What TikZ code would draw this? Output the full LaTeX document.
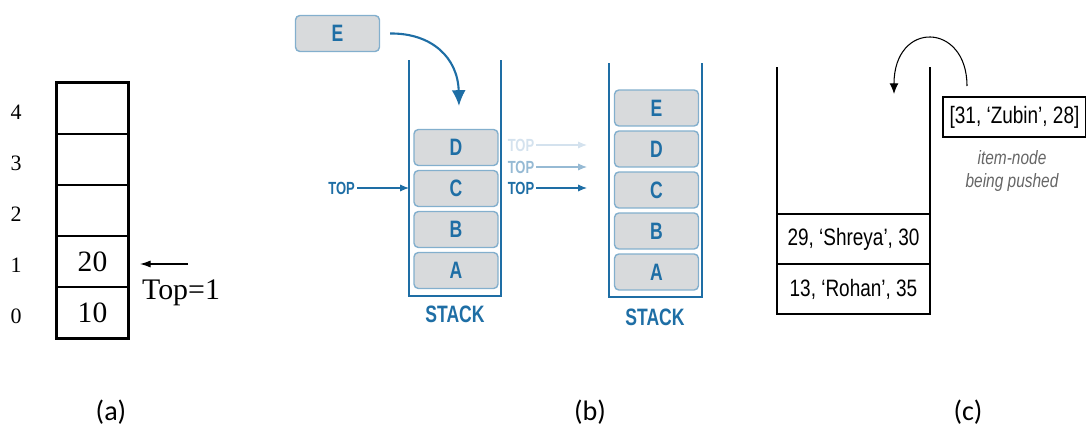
\documentclass[tikz,border=0pt]{standalone}
\usepackage{fontspec}
\setmainfont{Liberation Serif}
\newfontfamily\capfont{Carlito}
\newfontfamily\bfont[FakeStretch=0.74]{Liberation Sans}
\newfontfamily\cfont[FakeStretch=0.8]{Liberation Sans}
\usetikzlibrary{arrows.meta}
\definecolor{stackblue}{RGB}{30,110,165}
\definecolor{boxgray}{RGB}{216,218,220}
\definecolor{topfaint}{RGB}{212,226,238}
\definecolor{topmid}{RGB}{150,186,212}
\tikzset{
  cell/.style={draw, line width=0.6pt, minimum width=1.42cm, minimum height=1.02cm,
    inner sep=0pt, font=\fontsize{16.8}{18}\selectfont},
  idx/.style={font=\fontsize{12.5}{14}\selectfont},
  item/.style={draw=stackblue!55, fill=boxgray, rounded corners=2.5pt, line width=0.8pt,
    minimum width=1.68cm, minimum height=0.72cm, inner sep=0pt, text=stackblue,
    font=\bfont\bfseries\fontsize{13.5}{14}\selectfont},
  toplbl/.style={font=\bfont\bfseries\fontsize{10}{11}\selectfont, inner sep=1pt},
  wall/.style={draw=stackblue, line width=1pt},
  rec/.style={draw, line width=0.7pt, minimum width=3.06cm, minimum height=1cm,
    inner sep=0pt, font=\cfont\fontsize{13.5}{14}\selectfont},
  captxt/.style={font=\capfont\fontsize{16}{17}\selectfont}
}
\begin{document}
\begin{tikzpicture}[x=0.02cm, y=-0.02cm]
\useasboundingbox (0,0) rectangle (1086,436);
% (a) array stack
\foreach \i/\v in {0/10, 1/20, 2/, 3/, 4/} {
  \node[cell] (a\i) at (92.5, 312.5-51*\i) {\v};
  \node[idx] (n\i) at (16, 316.5-51*\i) {\i};
}
\draw[line width=1.5pt] (a4.north west) rectangle (a0.south east);
\coordinate (ptr) at (188, 264);
\draw[-{Latex[length=6pt,width=4pt]}, line width=0.6pt] (ptr) -- (140, 264) coordinate (ptrend);
\node[font=\fontsize{17}{18}\selectfont] (toplab) at (181, 293) {Top=1};
% (b) push E
\node[item] (e0) at (337.5, 33.5) {E};
\draw[wall] (409,60) coordinate (w1) -- (409,296) -- (501,296) -- (501,60);
\foreach \n/\l in {0/A, 1/B, 2/C, 3/D} {
  \node[item] (s\n) at (456, 270.5-41*\n) {\l};
}
\node[text=stackblue, font=\bfont\bfseries\fontsize{13.5}{14}\selectfont] (stk1) at (455, 314) {STACK};
\draw[stackblue, line width=1.2pt, -{Latex[length=9pt,width=8pt]}]
  (e0.east) ++(10,0) coordinate (e0out) .. controls (432,33) and (458,58) .. (459,106) coordinate (e0in);
\node[toplbl, text=stackblue, anchor=east] (tp0) at (357, 188) {TOP};
\draw[stackblue, line width=0.6pt, -{Latex[length=5pt,width=4pt]}] (tp0.east) -- (tp0 -| w1);
% pointers moving up
\coordinate (w2) at (587, 0);
\node[toplbl, text=topfaint] (tp3) at (521, 145) {TOP};
\node[toplbl, text=topmid] (tp2) at (521, 167) {TOP};
\node[toplbl, text=stackblue] (tp1) at (521, 188) {TOP};
\draw[topfaint, line width=0.6pt, -{Latex[length=5pt,width=4pt]}] (tp3.east) -- (tp3 -| w2);
\draw[topmid, line width=0.6pt, -{Latex[length=5pt,width=4pt]}] (tp2.east) -- (tp2 -| w2);
\draw[stackblue, line width=0.6pt, -{Latex[length=5pt,width=4pt]}] (tp1.east) -- (tp1 -| w2);
\draw[wall] (609,63) -- (609,297) -- (702,297) -- (702,63);
\foreach \n/\l in {0/A, 1/B, 2/C, 3/D, 4/E} {
  \node[item] (r\n) at (656.5, 272-41*\n) {\l};
}
\node[text=stackblue, font=\bfont\bfseries\fontsize{13.5}{14}\selectfont] (stk2) at (655, 317) {STACK};
% (c) stack of records
\draw[line width=0.7pt] (777,67) -- (777,314) -- (930,314) -- (930,67);
\node[rec] (q0) at (853.5, 289) {13, ‘Rohan’, 35};
\node[rec] (q1) at (853.5, 239) {29, ‘Shreya’, 30};
\node[draw, line width=1pt, minimum width=2.86cm, minimum height=0.8cm, inner sep=0pt,
  font=\cfont\fontsize{13.5}{14}\selectfont] (zub) at (1014.5, 117) {[31, ‘Zubin’, 28]};
\node[text=black!60, font=\cfont\itshape\fontsize{11}{13}\selectfont, align=center]
  (znote) at (1012, 171) {item-node\\being pushed};
\draw[line width=0.6pt, -{Latex[length=6pt,width=5pt]}]
  (967,86) coordinate (zout) .. controls (967,22) and (894,20) .. (894,94) coordinate (zin);
% captions
\node[captxt] (capa) at (111, 412) {(a)};
\node[captxt] (capb) at (590, 412) {(b)};
\node[captxt] (capc) at (968, 412) {(c)};
\end{tikzpicture}
\end{document}
